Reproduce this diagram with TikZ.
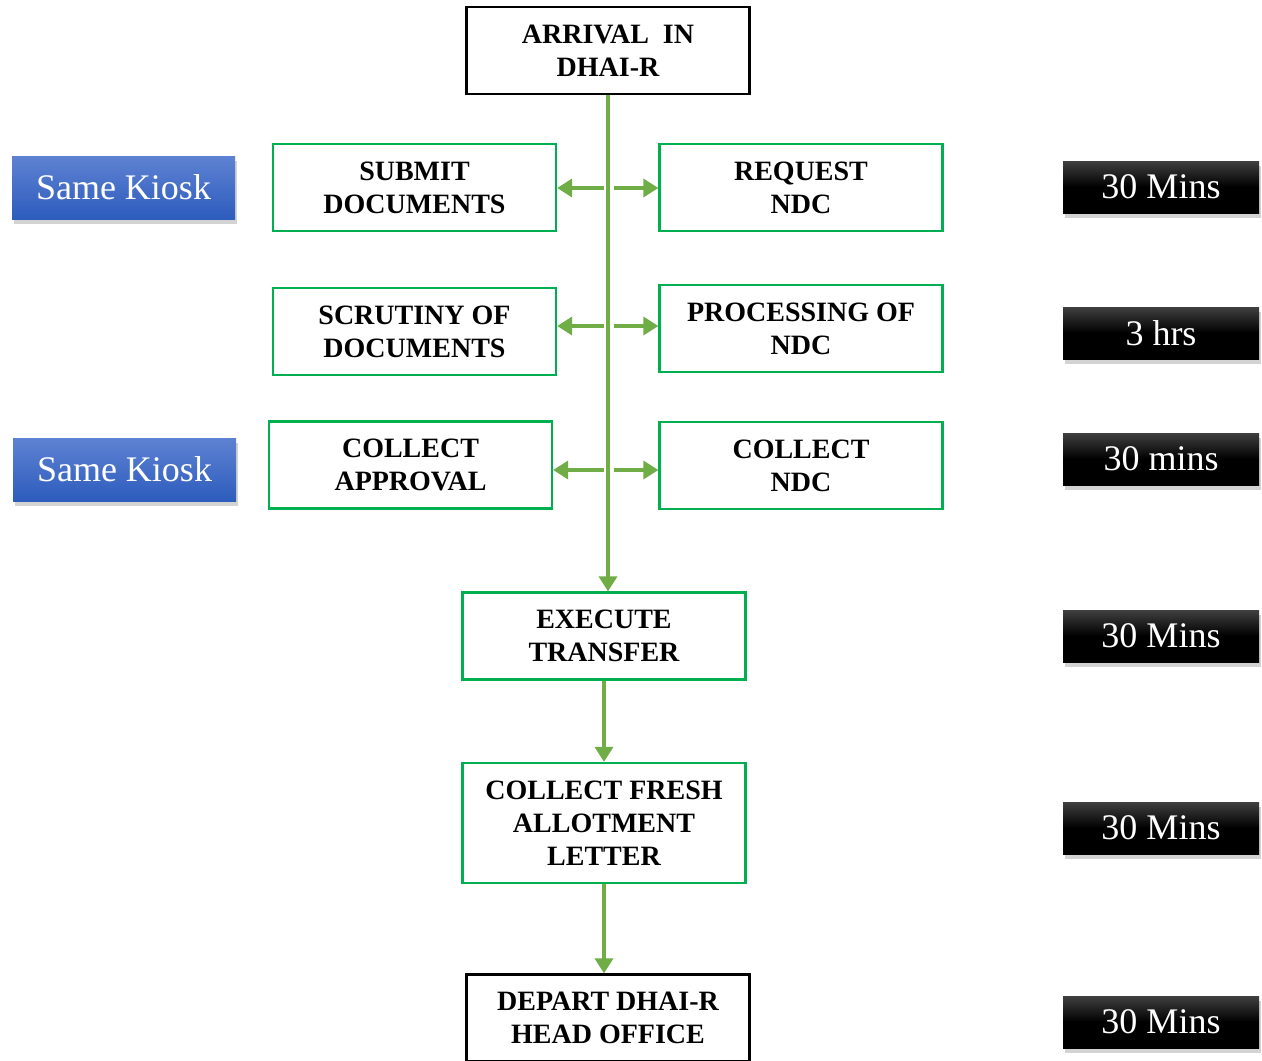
\documentclass[tikz,border=0pt]{standalone}
\usepackage{fontspec}
\setmainfont{Liberation Serif}
\usetikzlibrary{arrows.meta,shadows}
\definecolor{boxgreen}{HTML}{00B050}
\definecolor{linegreen}{HTML}{70AD47}
\definecolor{kioskTop}{HTML}{5E82D2}
\definecolor{kioskBot}{HTML}{2D5CBD}
\tikzset{
  stepbox/.style={draw=boxgreen,line width=2.3pt,minimum width=283pt,minimum height=87pt,align=center,
     font=\fontsize{28}{33}\selectfont\bfseries,inner sep=0pt},
  endbox/.style={stepbox,draw=black},
  kiosk/.style={top color=kioskTop,bottom color=kioskBot,minimum width=223pt,minimum height=63pt,
     text=white,font=\fontsize{36}{40}\selectfont,inner sep=0pt,
     drop shadow={shadow xshift=2pt,shadow yshift=-5pt,opacity=0.35}},
  timebox/.style={top color=black!75,bottom color=black,middle color=black,minimum width=196pt,minimum height=52pt,
     text=white,font=\fontsize{36}{40}\selectfont,inner sep=0pt,
     drop shadow={shadow xshift=2pt,shadow yshift=-5pt,opacity=0.35}},
  conn/.style={draw=linegreen,line width=3.5pt,-{Triangle[width=18pt,length=15pt]}},
}
\begin{document}
\begin{tikzpicture}[x=1pt,y=-1pt]
\useasboundingbox (0,0) rectangle (1262,1061);
% steps
\node[endbox] (arrival) at (608,50.5) {ARRIVAL\ \ IN\\DHAI-R};
\node[stepbox] (submit) at (414.5,187.5) {SUBMIT\\DOCUMENTS};
\node[stepbox] (request) at (801,187.5) {REQUEST\\NDC};
\node[stepbox] (scrutiny) at (414.5,331.5) {SCRUTINY OF\\DOCUMENTS};
\node[stepbox] (processing) at (801,328.5) {PROCESSING OF\\NDC};
\node[stepbox] (approval) at (410.5,465) {COLLECT\\APPROVAL};
\node[stepbox] (collectndc) at (801,465.5) {COLLECT\\NDC};
\node[stepbox] (execute) at (604,636) {EXECUTE\\TRANSFER};
\node[stepbox,minimum height=120pt] (fresh) at (604,823) {COLLECT FRESH\\ALLOTMENT\\LETTER};
\node[endbox] (depart) at (608,1018) {DEPART DHAI-R\\HEAD OFFICE};
% side labels
\node[kiosk] (kiosk1) at (123.5,187.5) {Same Kiosk};
\node[kiosk] (kiosk2) at (124.5,469.5) {Same Kiosk};
\node[timebox] (t1) at (1161,187) {30 Mins};
\node[timebox] (t2) at (1161,333) {3 hrs};
\node[timebox] (t3) at (1161,459) {30 mins};
\node[timebox] (t4) at (1161,636) {30 Mins};
\node[timebox] (t5) at (1161,828) {30 Mins};
\node[timebox] (t6) at (1161,1022) {30 Mins};
% spine
\coordinate (spineEnd) at (arrival.south |- execute.north);
\draw[conn] (arrival.south) -- (spineEnd);
% branch starts
\coordinate (l1) at (604,188); \coordinate (r1) at (614,188);
\coordinate (l2) at (604,326); \coordinate (r2) at (614,326);
\coordinate (l3) at (604,470); \coordinate (r3) at (614,470);
\draw[conn] (l1) -- (l1 -| submit.east);
\draw[conn] (r1) -- (r1 -| request.west);
\draw[conn] (l2) -- (l2 -| scrutiny.east);
\draw[conn] (r2) -- (r2 -| processing.west);
\draw[conn] (l3) -- (l3 -| approval.east);
\draw[conn] (r3) -- (r3 -| collectndc.west);
% lower chain
\draw[conn] (execute.south) -- (fresh.north);
\draw[conn] (fresh.south) -- (fresh.south |- depart.north);
\end{tikzpicture}
\end{document}
